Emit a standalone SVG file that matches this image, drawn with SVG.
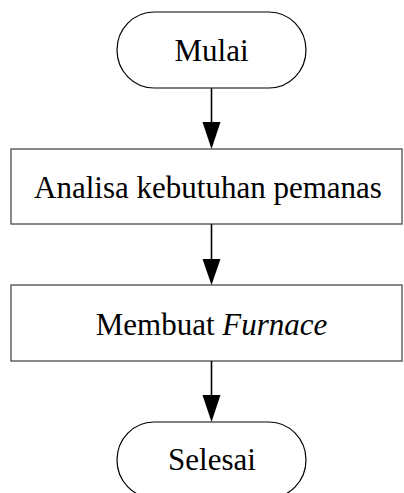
<svg xmlns="http://www.w3.org/2000/svg" width="404" height="493" viewBox="0 0 404 493">
  <style>
    .term { fill: #ffffff; stroke: #000000; stroke-width: 1.2; }
    .proc { fill: #ffffff; stroke: #4a4a4a; stroke-width: 1.3; }
    .label { font-family: "Liberation Serif", "Times New Roman", serif; font-size: 31px; fill: #000000; text-anchor: middle; }
    .edge { stroke: #000000; stroke-width: 1.6; fill: none; }
    .head { fill: #000000; stroke: none; }
  </style>
  <rect width="404" height="493" fill="#ffffff"/>

  <g id="mulai">
    <rect class="term" x="117" y="12" width="189" height="76" rx="37" ry="38"/>
    <text class="label" x="211.5" y="61">Mulai</text>
  </g>

  <g id="analisa">
    <rect class="proc" x="11" y="149" width="391" height="75"/>
    <text class="label" x="208" y="198">Analisa kebutuhan pemanas</text>
  </g>

  <g id="membuat">
    <rect class="proc" x="11" y="285" width="391" height="76"/>
    <text class="label" x="211.5" y="335">Membuat <tspan font-style="italic">Furnace</tspan></text>
  </g>

  <g id="selesai">
    <rect class="term" x="117" y="422" width="189" height="76" rx="37" ry="38"/>
    <text class="label" x="212" y="470">Selesai</text>
  </g>

  <g id="connectors">
    <line class="edge" x1="211.5" y1="88" x2="211.5" y2="123"/>
    <polygon class="head" points="202.5,122 220.5,122 211.5,149"/>
    <line class="edge" x1="211.5" y1="224" x2="211.5" y2="260"/>
    <polygon class="head" points="202.5,259 220.5,259 211.5,285"/>
    <line class="edge" x1="211.5" y1="361" x2="211.5" y2="396"/>
    <polygon class="head" points="202.5,395 220.5,395 211.5,422"/>
  </g>
</svg>
